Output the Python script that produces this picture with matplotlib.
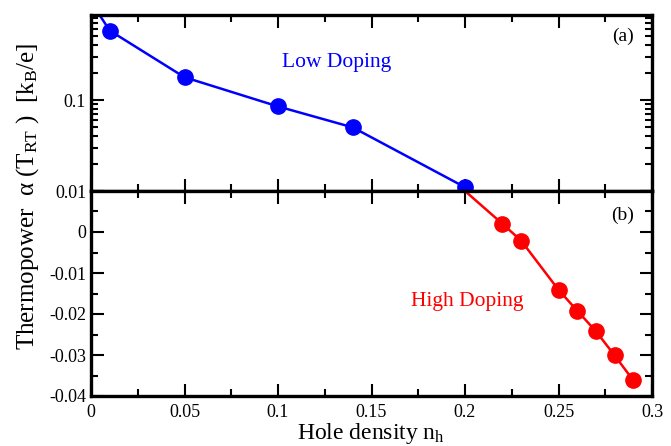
import matplotlib
matplotlib.use('Agg')
import matplotlib.pyplot as plt
from matplotlib.ticker import MultipleLocator, FixedLocator, LogLocator, NullFormatter

plt.rcParams['font.family'] = ['Liberation Serif', 'DejaVu Serif']
plt.rcParams['mathtext.fontset'] = 'custom'
plt.rcParams['mathtext.rm'] = 'Liberation Serif'
plt.rcParams['mathtext.it'] = 'Liberation Serif:italic'
plt.rcParams['axes.unicode_minus'] = False

# low doping (log panel a)
x_low = [0.0, 0.01, 0.05, 0.1, 0.14, 0.2]
y_low = [1.2, 0.58, 0.178, 0.085, 0.05, 0.011]

# high doping (linear panel b)
x_high = [0.2, 0.22, 0.23, 0.25, 0.26, 0.27, 0.28, 0.29]
y_high = [0.01, 0.002, -0.0021, -0.0141, -0.0192, -0.0242, -0.0301, -0.0362]

xticks = [0, 0.05, 0.1, 0.15, 0.2, 0.25, 0.3]
xticklabels = ['0', '0.05', '0.1', '0.15', '0.2', '0.25', '0.3']
yticks_b = [-0.04, -0.03, -0.02, -0.01, 0]
yticklabels_b = ['-0.04', '-0.03', '-0.02', '-0.01', '0']

fig = plt.figure(figsize=(6.71, 4.46), dpi=100)
left, right = 91 / 671, 652 / 671
top, mid, bot = 1 - 15 / 446, 1 - 191 / 446, 1 - 396 / 446
ax1 = fig.add_axes([left, mid, right - left, top - mid])
ax2 = fig.add_axes([left, bot, right - left, mid - bot])

for ax in (ax1, ax2):
    for s in ax.spines.values():
        s.set_linewidth(2.4)
    ax.tick_params(which='both', direction='in', top=True, right=True,
                   labelsize=13, width=1.5)
    ax.tick_params(which='major', length=9)
    ax.tick_params(which='minor', length=5)
    ax.set_xlim(0, 0.3)
    ax.set_xticks(xticks)
    ax.xaxis.set_minor_locator(MultipleLocator(0.025))

# panel a
ax1.plot(x_low, y_low, color='blue', lw=1.8, marker='o', ms=11)
ax1.set_yscale('log')
ax1.set_ylim(0.01, 0.86)
ax1.yaxis.set_major_locator(FixedLocator([0.01, 0.1]))
ax1.set_yticklabels(['0.01', '0.1'])
ax1.yaxis.set_minor_locator(LogLocator(base=10, subs=range(2, 10)))
ax1.yaxis.set_minor_formatter(NullFormatter())
ax1.set_xticklabels([])
ax1.text(0.1315, 0.26, 'Low Doping', color='blue', fontsize=15.5, ha='center', va='center')
ax1.text(0.948, 0.88, '(a)', transform=ax1.transAxes, fontsize=14, ha='center', va='center')

# panel b
ax2.plot(x_high, y_high, color='red', lw=1.8, marker='o', ms=11,
         markevery=list(range(1, len(x_high))))
ax2.set_ylim(-0.04, 0.01)
ax2.set_yticks(yticks_b + [0.01])
ax2.set_yticklabels(yticklabels_b + [''])
ax2.yaxis.set_minor_locator(MultipleLocator(0.005))
ax2.set_xticklabels(xticklabels)
ax2.tick_params(axis='x', pad=6)
ax2.text(0.201, -0.017, 'High Doping', color='red', fontsize=15.5, ha='center', va='center')
ax2.text(0.948, 0.88, '(b)', transform=ax2.transAxes, fontsize=14, ha='center', va='center')

ax2.set_xlabel(r'Hole density n$_{\rm h}$', fontsize=17, labelpad=0)
fig.text(28 / 671, 1 - 196 / 446,
         r'Thermopower  α (T$_{\rm RT}$ )  [k$_{\rm B}$/e]',
         rotation=90, fontsize=18, ha='center', va='center')

fig.savefig('out.png', dpi=100)
